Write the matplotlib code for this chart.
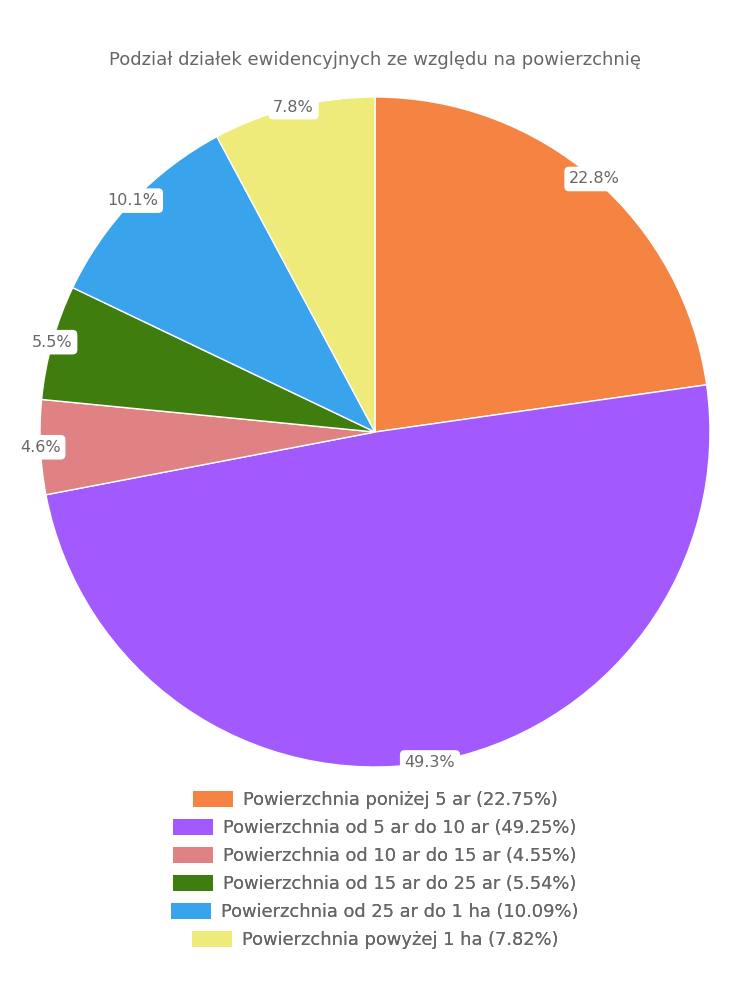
import matplotlib
matplotlib.use('Agg')
from matplotlib import pyplot as plt
from matplotlib.patches import Patch
from decimal import Decimal, ROUND_HALF_UP
import numpy as np

plt.rcParams['font.family'] = ['DejaVu Sans']

title = 'Podział działek ewidencyjnych ze względu na powierzchnię'
categories = [
    'Powierzchnia poniżej 5 ar',
    'Powierzchnia od 5 ar do 10 ar',
    'Powierzchnia od 10 ar do 15 ar',
    'Powierzchnia od 15 ar do 25 ar',
    'Powierzchnia od 25 ar do 1 ha',
    'Powierzchnia powyżej 1 ha',
]
shares = [22.75, 49.25, 4.55, 5.54, 10.09, 7.82]
colors = ['#F58442', '#A25AFF', '#E08284', '#3E7D0E', '#39A3EB', '#EFEB7B']
text_color = '#666666'


def pct1(v):
    # round half up like the original chart
    return str(Decimal(str(v)).quantize(Decimal('0.1'), rounding=ROUND_HALF_UP)) + '%'


fig = plt.figure(figsize=(7.5, 10), dpi=100)
ax = fig.add_axes([40 / 750, 1 - 767 / 1000, 670 / 750, 670 / 1000])

wedges, _ = ax.pie(shares, colors=colors, startangle=90, counterclock=False,
                   radius=1, wedgeprops=dict(edgecolor='white', linewidth=1))
ax.set_xlim(-1, 1)
ax.set_ylim(-1, 1)
ax.set_aspect('equal')
ax.axis('off')

# percentage labels on the rim
for w, s in zip(wedges, shares):
    ang = np.deg2rad((w.theta1 + w.theta2) / 2)
    ax.text(np.cos(ang), np.sin(ang), pct1(s), ha='center', va='center',
            fontsize=11.5, color=text_color, zorder=5,
            bbox=dict(boxstyle='round,pad=0.3,rounding_size=0.3', fc='white', ec='none'))

fig.text(0.5, 1 - 60 / 1000, title, ha='center', va='center', fontsize=13, color=text_color)

# legend, each entry centred on its own
for i, (cat, s, c) in enumerate(zip(categories, shares, colors)):
    y = 1 - (800 + 28 * i) / 1000
    leg = fig.legend(handles=[Patch(facecolor=c, edgecolor='none')],
                     labels=['%s (%.2f%%)' % (cat, s)],
                     loc='center', bbox_to_anchor=(0.5, y), frameon=False,
                     fontsize=12.9, handlelength=2.23, handleheight=0.95,
                     handletextpad=0.56, borderpad=0, labelcolor=text_color)
    fig.add_artist(leg)

fig.savefig('out.png', dpi=100)
